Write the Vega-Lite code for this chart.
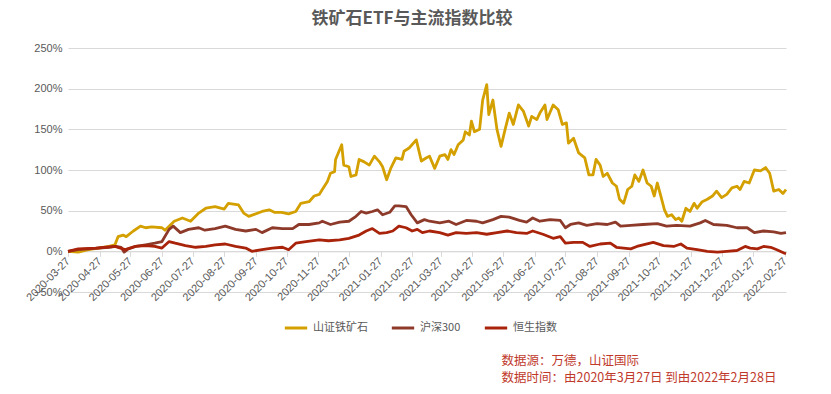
{
"$schema":"https://vega.github.io/schema/vega-lite/v6.json",
"width":718,"height":244,
"autosize":{"type":"none"},
"padding":{"left":68,"top":48,"right":45,"bottom":102},
"background":"white",
"title":{"text":"铁矿石ETF与主流指数比较","fontSize":17,"fontWeight":"bold","color":"#595959","font":"Noto Sans CJK SC","anchor":"middle","offset":14,"dx":-15},
"data":{"format":{"parse":{"d":"utc:'%Y-%m-%d'"}},"values":[
{"d":"2020-03-27","s":"山证铁矿石","v":0},
{"d":"2020-04-06","s":"山证铁矿石","v":-0.01},
{"d":"2020-04-16","s":"山证铁矿石","v":0.02},
{"d":"2020-04-26","s":"山证铁矿石","v":0.04},
{"d":"2020-05-06","s":"山证铁矿石","v":0.06},
{"d":"2020-05-12","s":"山证铁矿石","v":0.08},
{"d":"2020-05-15","s":"山证铁矿石","v":0.18},
{"d":"2020-05-20","s":"山证铁矿石","v":0.20},
{"d":"2020-05-23","s":"山证铁矿石","v":0.18},
{"d":"2020-05-30","s":"山证铁矿石","v":0.25},
{"d":"2020-06-06","s":"山证铁矿石","v":0.31},
{"d":"2020-06-11","s":"山证铁矿石","v":0.29},
{"d":"2020-06-17","s":"山证铁矿石","v":0.30},
{"d":"2020-06-27","s":"山证铁矿石","v":0.29},
{"d":"2020-06-30","s":"山证铁矿石","v":0.26},
{"d":"2020-07-09","s":"山证铁矿石","v":0.37},
{"d":"2020-07-17","s":"山证铁矿石","v":0.41},
{"d":"2020-07-25","s":"山证铁矿石","v":0.37},
{"d":"2020-08-02","s":"山证铁矿石","v":0.47},
{"d":"2020-08-09","s":"山证铁矿石","v":0.53},
{"d":"2020-08-18","s":"山证铁矿石","v":0.55},
{"d":"2020-08-27","s":"山证铁矿石","v":0.52},
{"d":"2020-08-31","s":"山证铁矿石","v":0.59},
{"d":"2020-09-10","s":"山证铁矿石","v":0.57},
{"d":"2020-09-15","s":"山证铁矿石","v":0.47},
{"d":"2020-09-20","s":"山证铁矿石","v":0.43},
{"d":"2020-10-03","s":"山证铁矿石","v":0.49},
{"d":"2020-10-10","s":"山证铁矿石","v":0.51},
{"d":"2020-10-15","s":"山证铁矿石","v":0.48},
{"d":"2020-10-22","s":"山证铁矿石","v":0.48},
{"d":"2020-10-29","s":"山证铁矿石","v":0.46},
{"d":"2020-11-05","s":"山证铁矿石","v":0.49},
{"d":"2020-11-10","s":"山证铁矿石","v":0.59},
{"d":"2020-11-18","s":"山证铁矿石","v":0.61},
{"d":"2020-11-23","s":"山证铁矿石","v":0.68},
{"d":"2020-11-28","s":"山证铁矿石","v":0.70},
{"d":"2020-12-01","s":"山证铁矿石","v":0.76},
{"d":"2020-12-06","s":"山证铁矿石","v":0.86},
{"d":"2020-12-09","s":"山证铁矿石","v":0.96},
{"d":"2020-12-13","s":"山证铁矿石","v":0.98},
{"d":"2020-12-14","s":"山证铁矿石","v":1.13},
{"d":"2020-12-20","s":"山证铁矿石","v":1.31},
{"d":"2020-12-22","s":"山证铁矿石","v":1.06},
{"d":"2020-12-27","s":"山证铁矿石","v":1.04},
{"d":"2020-12-29","s":"山证铁矿石","v":0.92},
{"d":"2021-01-03","s":"山证铁矿石","v":0.94},
{"d":"2021-01-06","s":"山证铁矿石","v":1.13},
{"d":"2021-01-11","s":"山证铁矿石","v":1.10},
{"d":"2021-01-16","s":"山证铁矿石","v":1.06},
{"d":"2021-01-21","s":"山证铁矿石","v":1.17},
{"d":"2021-01-26","s":"山证铁矿石","v":1.10},
{"d":"2021-01-29","s":"山证铁矿石","v":1.04},
{"d":"2021-01-31","s":"山证铁矿石","v":0.96},
{"d":"2021-02-02","s":"山证铁矿石","v":0.88},
{"d":"2021-02-06","s":"山证铁矿石","v":1.02},
{"d":"2021-02-11","s":"山证铁矿石","v":1.15},
{"d":"2021-02-17","s":"山证铁矿石","v":1.13},
{"d":"2021-02-19","s":"山证铁矿石","v":1.23},
{"d":"2021-02-24","s":"山证铁矿石","v":1.27},
{"d":"2021-03-03","s":"山证铁矿石","v":1.37},
{"d":"2021-03-08","s":"山证铁矿石","v":1.11},
{"d":"2021-03-13","s":"山证铁矿石","v":1.15},
{"d":"2021-03-16","s":"山证铁矿石","v":1.17},
{"d":"2021-03-21","s":"山证铁矿石","v":1.02},
{"d":"2021-03-26","s":"山证铁矿石","v":1.17},
{"d":"2021-03-31","s":"山证铁矿石","v":1.19},
{"d":"2021-04-03","s":"山证铁矿石","v":1.13},
{"d":"2021-04-06","s":"山证铁矿石","v":1.25},
{"d":"2021-04-09","s":"山证铁矿石","v":1.19},
{"d":"2021-04-13","s":"山证铁矿石","v":1.31},
{"d":"2021-04-18","s":"山证铁矿石","v":1.37},
{"d":"2021-04-20","s":"山证铁矿石","v":1.47},
{"d":"2021-04-24","s":"山证铁矿石","v":1.43},
{"d":"2021-04-26","s":"山证铁矿石","v":1.60},
{"d":"2021-04-29","s":"山证铁矿石","v":1.47},
{"d":"2021-05-04","s":"山证铁矿石","v":1.50},
{"d":"2021-05-07","s":"山证铁矿石","v":1.86},
{"d":"2021-05-11","s":"山证铁矿石","v":2.05},
{"d":"2021-05-13","s":"山证铁矿石","v":1.68},
{"d":"2021-05-17","s":"山证铁矿石","v":1.86},
{"d":"2021-05-21","s":"山证铁矿石","v":1.50},
{"d":"2021-05-25","s":"山证铁矿石","v":1.29},
{"d":"2021-05-29","s":"山证铁矿石","v":1.50},
{"d":"2021-06-02","s":"山证铁矿石","v":1.70},
{"d":"2021-06-06","s":"山证铁矿石","v":1.56},
{"d":"2021-06-11","s":"山证铁矿石","v":1.80},
{"d":"2021-06-16","s":"山证铁矿石","v":1.72},
{"d":"2021-06-21","s":"山证铁矿石","v":1.54},
{"d":"2021-06-24","s":"山证铁矿石","v":1.66},
{"d":"2021-06-29","s":"山证铁矿石","v":1.62},
{"d":"2021-07-02","s":"山证铁矿石","v":1.70},
{"d":"2021-07-07","s":"山证铁矿石","v":1.80},
{"d":"2021-07-09","s":"山证铁矿石","v":1.62},
{"d":"2021-07-15","s":"山证铁矿石","v":1.80},
{"d":"2021-07-20","s":"山证铁矿石","v":1.74},
{"d":"2021-07-24","s":"山证铁矿石","v":1.56},
{"d":"2021-07-28","s":"山证铁矿石","v":1.58},
{"d":"2021-07-30","s":"山证铁矿石","v":1.33},
{"d":"2021-08-04","s":"山证铁矿石","v":1.39},
{"d":"2021-08-09","s":"山证铁矿石","v":1.21},
{"d":"2021-08-15","s":"山证铁矿石","v":1.15},
{"d":"2021-08-19","s":"山证铁矿石","v":0.94},
{"d":"2021-08-23","s":"山证铁矿石","v":0.94},
{"d":"2021-08-26","s":"山证铁矿石","v":1.13},
{"d":"2021-08-30","s":"山证铁矿石","v":1.06},
{"d":"2021-09-02","s":"山证铁矿石","v":0.92},
{"d":"2021-09-06","s":"山证铁矿石","v":0.96},
{"d":"2021-09-11","s":"山证铁矿石","v":0.84},
{"d":"2021-09-15","s":"山证铁矿石","v":0.80},
{"d":"2021-09-18","s":"山证铁矿石","v":0.64},
{"d":"2021-09-22","s":"山证铁矿石","v":0.59},
{"d":"2021-09-26","s":"山证铁矿石","v":0.76},
{"d":"2021-09-30","s":"山证铁矿石","v":0.80},
{"d":"2021-10-03","s":"山证铁矿石","v":0.94},
{"d":"2021-10-07","s":"山证铁矿石","v":0.86},
{"d":"2021-10-11","s":"山证铁矿石","v":1.00},
{"d":"2021-10-15","s":"山证铁矿石","v":0.84},
{"d":"2021-10-19","s":"山证铁矿石","v":0.80},
{"d":"2021-10-22","s":"山证铁矿石","v":0.68},
{"d":"2021-10-25","s":"山证铁矿石","v":0.84},
{"d":"2021-10-28","s":"山证铁矿石","v":0.70},
{"d":"2021-11-01","s":"山证铁矿石","v":0.51},
{"d":"2021-11-04","s":"山证铁矿石","v":0.43},
{"d":"2021-11-08","s":"山证铁矿石","v":0.45},
{"d":"2021-11-12","s":"山证铁矿石","v":0.39},
{"d":"2021-11-15","s":"山证铁矿石","v":0.41},
{"d":"2021-11-18","s":"山证铁矿石","v":0.37},
{"d":"2021-11-22","s":"山证铁矿石","v":0.53},
{"d":"2021-11-26","s":"山证铁矿石","v":0.49},
{"d":"2021-11-30","s":"山证铁矿石","v":0.59},
{"d":"2021-12-03","s":"山证铁矿石","v":0.53},
{"d":"2021-12-08","s":"山证铁矿石","v":0.61},
{"d":"2021-12-13","s":"山证铁矿石","v":0.64},
{"d":"2021-12-18","s":"山证铁矿石","v":0.68},
{"d":"2021-12-22","s":"山证铁矿石","v":0.74},
{"d":"2021-12-27","s":"山证铁矿石","v":0.66},
{"d":"2022-01-01","s":"山证铁矿石","v":0.70},
{"d":"2022-01-06","s":"山证铁矿石","v":0.78},
{"d":"2022-01-11","s":"山证铁矿石","v":0.80},
{"d":"2022-01-14","s":"山证铁矿石","v":0.76},
{"d":"2022-01-18","s":"山证铁矿石","v":0.86},
{"d":"2022-01-23","s":"山证铁矿石","v":0.84},
{"d":"2022-01-28","s":"山证铁矿石","v":1.00},
{"d":"2022-02-03","s":"山证铁矿石","v":0.99},
{"d":"2022-02-08","s":"山证铁矿石","v":1.03},
{"d":"2022-02-12","s":"山证铁矿石","v":0.96},
{"d":"2022-02-16","s":"山证铁矿石","v":0.74},
{"d":"2022-02-21","s":"山证铁矿石","v":0.76},
{"d":"2022-02-25","s":"山证铁矿石","v":0.71},
{"d":"2022-02-28","s":"山证铁矿石","v":0.76},
{"d":"2020-03-27","s":"沪深300","v":0},
{"d":"2020-04-06","s":"沪深300","v":0.02},
{"d":"2020-04-16","s":"沪深300","v":0.03},
{"d":"2020-04-26","s":"沪深300","v":0.04},
{"d":"2020-05-06","s":"沪深300","v":0.05},
{"d":"2020-05-13","s":"沪深300","v":0.06},
{"d":"2020-05-18","s":"沪深300","v":0.05},
{"d":"2020-05-21","s":"沪深300","v":-0.01},
{"d":"2020-05-25","s":"沪深300","v":0.03},
{"d":"2020-06-01","s":"沪深300","v":0.06},
{"d":"2020-06-11","s":"沪深300","v":0.08},
{"d":"2020-06-20","s":"沪深300","v":0.10},
{"d":"2020-06-27","s":"沪深300","v":0.12},
{"d":"2020-07-04","s":"沪深300","v":0.27},
{"d":"2020-07-08","s":"沪深300","v":0.31},
{"d":"2020-07-15","s":"沪深300","v":0.23},
{"d":"2020-07-23","s":"沪深300","v":0.27},
{"d":"2020-08-02","s":"沪深300","v":0.29},
{"d":"2020-08-08","s":"沪深300","v":0.26},
{"d":"2020-08-18","s":"沪深300","v":0.28},
{"d":"2020-08-28","s":"沪深300","v":0.31},
{"d":"2020-09-07","s":"沪深300","v":0.27},
{"d":"2020-09-17","s":"沪深300","v":0.25},
{"d":"2020-09-27","s":"沪深300","v":0.27},
{"d":"2020-10-03","s":"沪深300","v":0.23},
{"d":"2020-10-13","s":"沪深300","v":0.29},
{"d":"2020-10-23","s":"沪深300","v":0.28},
{"d":"2020-11-02","s":"沪深300","v":0.28},
{"d":"2020-11-08","s":"沪深300","v":0.33},
{"d":"2020-11-18","s":"沪深300","v":0.33},
{"d":"2020-11-28","s":"沪深300","v":0.35},
{"d":"2020-12-01","s":"沪深300","v":0.37},
{"d":"2020-12-09","s":"沪深300","v":0.33},
{"d":"2020-12-18","s":"沪深300","v":0.36},
{"d":"2020-12-27","s":"沪深300","v":0.37},
{"d":"2021-01-03","s":"沪深300","v":0.43},
{"d":"2021-01-08","s":"沪深300","v":0.49},
{"d":"2021-01-13","s":"沪深300","v":0.47},
{"d":"2021-01-19","s":"沪深300","v":0.49},
{"d":"2021-01-24","s":"沪深300","v":0.51},
{"d":"2021-01-29","s":"沪深300","v":0.45},
{"d":"2021-02-05","s":"沪深300","v":0.48},
{"d":"2021-02-10","s":"沪深300","v":0.56},
{"d":"2021-02-14","s":"沪深300","v":0.56},
{"d":"2021-02-21","s":"沪深300","v":0.55},
{"d":"2021-02-26","s":"沪深300","v":0.45},
{"d":"2021-03-04","s":"沪深300","v":0.35},
{"d":"2021-03-11","s":"沪深300","v":0.39},
{"d":"2021-03-16","s":"沪深300","v":0.37},
{"d":"2021-03-26","s":"沪深300","v":0.35},
{"d":"2021-04-04","s":"沪深300","v":0.37},
{"d":"2021-04-11","s":"沪深300","v":0.33},
{"d":"2021-04-21","s":"沪深300","v":0.38},
{"d":"2021-05-01","s":"沪深300","v":0.37},
{"d":"2021-05-07","s":"沪深300","v":0.35},
{"d":"2021-05-17","s":"沪深300","v":0.39},
{"d":"2021-05-25","s":"沪深300","v":0.43},
{"d":"2021-06-02","s":"沪深300","v":0.42},
{"d":"2021-06-12","s":"沪深300","v":0.38},
{"d":"2021-06-19","s":"沪深300","v":0.36},
{"d":"2021-06-25","s":"沪深300","v":0.41},
{"d":"2021-07-02","s":"沪深300","v":0.37},
{"d":"2021-07-12","s":"沪深300","v":0.39},
{"d":"2021-07-22","s":"沪深300","v":0.38},
{"d":"2021-07-27","s":"沪深300","v":0.29},
{"d":"2021-08-01","s":"沪深300","v":0.33},
{"d":"2021-08-09","s":"沪深300","v":0.35},
{"d":"2021-08-17","s":"沪深300","v":0.32},
{"d":"2021-08-27","s":"沪深300","v":0.34},
{"d":"2021-09-06","s":"沪深300","v":0.33},
{"d":"2021-09-14","s":"沪深300","v":0.36},
{"d":"2021-09-19","s":"沪深300","v":0.31},
{"d":"2021-09-29","s":"沪深300","v":0.32},
{"d":"2021-10-11","s":"沪深300","v":0.33},
{"d":"2021-10-25","s":"沪深300","v":0.34},
{"d":"2021-11-03","s":"沪深300","v":0.31},
{"d":"2021-11-13","s":"沪深300","v":0.32},
{"d":"2021-11-26","s":"沪深300","v":0.31},
{"d":"2021-12-06","s":"沪深300","v":0.35},
{"d":"2021-12-11","s":"沪深300","v":0.38},
{"d":"2021-12-19","s":"沪深300","v":0.33},
{"d":"2022-01-01","s":"沪深300","v":0.32},
{"d":"2022-01-11","s":"沪深300","v":0.29},
{"d":"2022-01-21","s":"沪深300","v":0.29},
{"d":"2022-01-28","s":"沪深300","v":0.23},
{"d":"2022-02-06","s":"沪深300","v":0.25},
{"d":"2022-02-16","s":"沪深300","v":0.24},
{"d":"2022-02-23","s":"沪深300","v":0.22},
{"d":"2022-02-28","s":"沪深300","v":0.23},
{"d":"2020-03-27","s":"恒生指数","v":0},
{"d":"2020-04-06","s":"恒生指数","v":0.03},
{"d":"2020-04-23","s":"恒生指数","v":0.04},
{"d":"2020-05-03","s":"恒生指数","v":0.05},
{"d":"2020-05-12","s":"恒生指数","v":0.06},
{"d":"2020-05-22","s":"恒生指数","v":0.02},
{"d":"2020-06-01","s":"恒生指数","v":0.06},
{"d":"2020-06-11","s":"恒生指数","v":0.07},
{"d":"2020-06-20","s":"恒生指数","v":0.06},
{"d":"2020-06-27","s":"恒生指数","v":0.04},
{"d":"2020-07-04","s":"恒生指数","v":0.12},
{"d":"2020-07-10","s":"恒生指数","v":0.10},
{"d":"2020-07-20","s":"恒生指数","v":0.07},
{"d":"2020-07-30","s":"恒生指数","v":0.05},
{"d":"2020-08-09","s":"恒生指数","v":0.06},
{"d":"2020-08-18","s":"恒生指数","v":0.08},
{"d":"2020-08-28","s":"恒生指数","v":0.09},
{"d":"2020-09-07","s":"恒生指数","v":0.06},
{"d":"2020-09-17","s":"恒生指数","v":0.04},
{"d":"2020-09-23","s":"恒生指数","v":0.00},
{"d":"2020-10-03","s":"恒生指数","v":0.02},
{"d":"2020-10-13","s":"恒生指数","v":0.04},
{"d":"2020-10-23","s":"恒生指数","v":0.05},
{"d":"2020-10-29","s":"恒生指数","v":0.02},
{"d":"2020-11-05","s":"恒生指数","v":0.10},
{"d":"2020-11-15","s":"恒生指数","v":0.12},
{"d":"2020-11-28","s":"恒生指数","v":0.14},
{"d":"2020-12-07","s":"恒生指数","v":0.13},
{"d":"2020-12-18","s":"恒生指数","v":0.14},
{"d":"2020-12-27","s":"恒生指数","v":0.16},
{"d":"2021-01-06","s":"恒生指数","v":0.20},
{"d":"2021-01-13","s":"恒生指数","v":0.25},
{"d":"2021-01-19","s":"恒生指数","v":0.28},
{"d":"2021-01-26","s":"恒生指数","v":0.22},
{"d":"2021-02-02","s":"恒生指数","v":0.23},
{"d":"2021-02-08","s":"恒生指数","v":0.25},
{"d":"2021-02-14","s":"恒生指数","v":0.31},
{"d":"2021-02-21","s":"恒生指数","v":0.29},
{"d":"2021-02-27","s":"恒生指数","v":0.25},
{"d":"2021-03-04","s":"恒生指数","v":0.27},
{"d":"2021-03-09","s":"恒生指数","v":0.23},
{"d":"2021-03-16","s":"恒生指数","v":0.25},
{"d":"2021-03-26","s":"恒生指数","v":0.23},
{"d":"2021-04-03","s":"恒生指数","v":0.20},
{"d":"2021-04-11","s":"恒生指数","v":0.23},
{"d":"2021-04-21","s":"恒生指数","v":0.22},
{"d":"2021-05-01","s":"恒生指数","v":0.23},
{"d":"2021-05-11","s":"恒生指数","v":0.21},
{"d":"2021-05-21","s":"恒生指数","v":0.23},
{"d":"2021-05-31","s":"恒生指数","v":0.25},
{"d":"2021-06-09","s":"恒生指数","v":0.23},
{"d":"2021-06-19","s":"恒生指数","v":0.22},
{"d":"2021-06-25","s":"恒生指数","v":0.25},
{"d":"2021-07-05","s":"恒生指数","v":0.21},
{"d":"2021-07-15","s":"恒生指数","v":0.16},
{"d":"2021-07-22","s":"恒生指数","v":0.18},
{"d":"2021-07-27","s":"恒生指数","v":0.10},
{"d":"2021-08-04","s":"恒生指数","v":0.11},
{"d":"2021-08-13","s":"恒生指数","v":0.11},
{"d":"2021-08-20","s":"恒生指数","v":0.06},
{"d":"2021-08-30","s":"恒生指数","v":0.09},
{"d":"2021-09-09","s":"恒生指数","v":0.10},
{"d":"2021-09-15","s":"恒生指数","v":0.05},
{"d":"2021-09-22","s":"恒生指数","v":0.04},
{"d":"2021-09-29","s":"恒生指数","v":0.03},
{"d":"2021-10-05","s":"恒生指数","v":0.06},
{"d":"2021-10-11","s":"恒生指数","v":0.08},
{"d":"2021-10-21","s":"恒生指数","v":0.11},
{"d":"2021-10-31","s":"恒生指数","v":0.07},
{"d":"2021-11-10","s":"恒生指数","v":0.06},
{"d":"2021-11-17","s":"恒生指数","v":0.09},
{"d":"2021-11-23","s":"恒生指数","v":0.04},
{"d":"2021-12-03","s":"恒生指数","v":0.02},
{"d":"2021-12-13","s":"恒生指数","v":0.00},
{"d":"2021-12-23","s":"恒生指数","v":-0.01},
{"d":"2022-01-01","s":"恒生指数","v":0.00},
{"d":"2022-01-11","s":"恒生指数","v":0.01},
{"d":"2022-01-19","s":"恒生指数","v":0.06},
{"d":"2022-01-24","s":"恒生指数","v":0.04},
{"d":"2022-01-31","s":"恒生指数","v":0.03},
{"d":"2022-02-06","s":"恒生指数","v":0.06},
{"d":"2022-02-13","s":"恒生指数","v":0.05},
{"d":"2022-02-19","s":"恒生指数","v":0.02},
{"d":"2022-02-26","s":"恒生指数","v":-0.02},
{"d":"2022-02-28","s":"恒生指数","v":-0.03}
]},
"mark":{"type":"line","strokeWidth":2.8,"strokeJoin":"round"},
"encoding":{
"x":{"field":"d","type":"temporal",
"scale":{"type":"utc","domain":[{"year":2020,"month":3,"date":27,"utc":true},{"year":2022,"month":2,"date":28,"utc":true}]},
"axis":{"values":[
{"year":2020,"month":3,"date":27,"utc":true},{"year":2020,"month":4,"date":27,"utc":true},{"year":2020,"month":5,"date":27,"utc":true},{"year":2020,"month":6,"date":27,"utc":true},{"year":2020,"month":7,"date":27,"utc":true},{"year":2020,"month":8,"date":27,"utc":true},{"year":2020,"month":9,"date":27,"utc":true},{"year":2020,"month":10,"date":27,"utc":true},{"year":2020,"month":11,"date":27,"utc":true},{"year":2020,"month":12,"date":27,"utc":true},
{"year":2021,"month":1,"date":27,"utc":true},{"year":2021,"month":2,"date":27,"utc":true},{"year":2021,"month":3,"date":27,"utc":true},{"year":2021,"month":4,"date":27,"utc":true},{"year":2021,"month":5,"date":27,"utc":true},{"year":2021,"month":6,"date":27,"utc":true},{"year":2021,"month":7,"date":27,"utc":true},{"year":2021,"month":8,"date":27,"utc":true},{"year":2021,"month":9,"date":27,"utc":true},{"year":2021,"month":10,"date":27,"utc":true},{"year":2021,"month":11,"date":27,"utc":true},{"year":2021,"month":12,"date":27,"utc":true},
{"year":2022,"month":1,"date":27,"utc":true},{"year":2022,"month":2,"date":27,"utc":true}],
"labelExpr":"utcFormat(datum.value, '%Y-%m-%d')","labelAngle":-45,"labelAlign":"right","labelBaseline":"middle","labelFontSize":11,"labelColor":"#595959","labelFont":"Liberation Sans","labelPadding":3,"labelOverlap":false,"labelFlush":false,"labelBound":false,
"tickColor":"#D9D9D9","tickSize":5,"tickWidth":1,"domainColor":"#D9D9D9","domainWidth":1,"grid":false,"offset":-40.67,
"title":["数据源：万德，山证国际","数据时间：由2020年3月27日 到由2022年2月28日"],"titleColor":"#C0392B","titleFont":"Noto Sans CJK SC","titleFontSize":12.5,"titleFontWeight":"normal","titleAlign":"left","titleAnchor":"start","titleBaseline":"top","titleX":433,"titleY":103,"titleLineHeight":17}},
"y":{"field":"v","type":"quantitative","scale":{"domain":[-0.5,2.5],"nice":false,"zero":false},
"axis":{"values":[-0.5,0,0.5,1,1.5,2,2.5],"format":".0%","title":null,"domain":false,"ticks":false,"labelColor":"#595959","labelFontSize":11,"labelFont":"Liberation Sans","labelPadding":6,"gridColor":"#D9D9D9","gridWidth":1}},
"color":{"field":"s","type":"nominal","sort":["山证铁矿石","沪深300","恒生指数"],
"scale":{"domain":["山证铁矿石","沪深300","恒生指数"],"range":["#D4A000","#8E3A2A","#A8230A"]},
"legend":{"orient":"none","direction":"horizontal","legendX":215,"legendY":267,"title":null,"symbolType":"stroke","symbolStrokeWidth":3,"symbolSize":500,"labelFontSize":11,"labelColor":"#595959","labelFont":"Noto Sans CJK SC","columnPadding":17,"labelOffset":4}}
},
"config":{"view":{"stroke":null}}
}
